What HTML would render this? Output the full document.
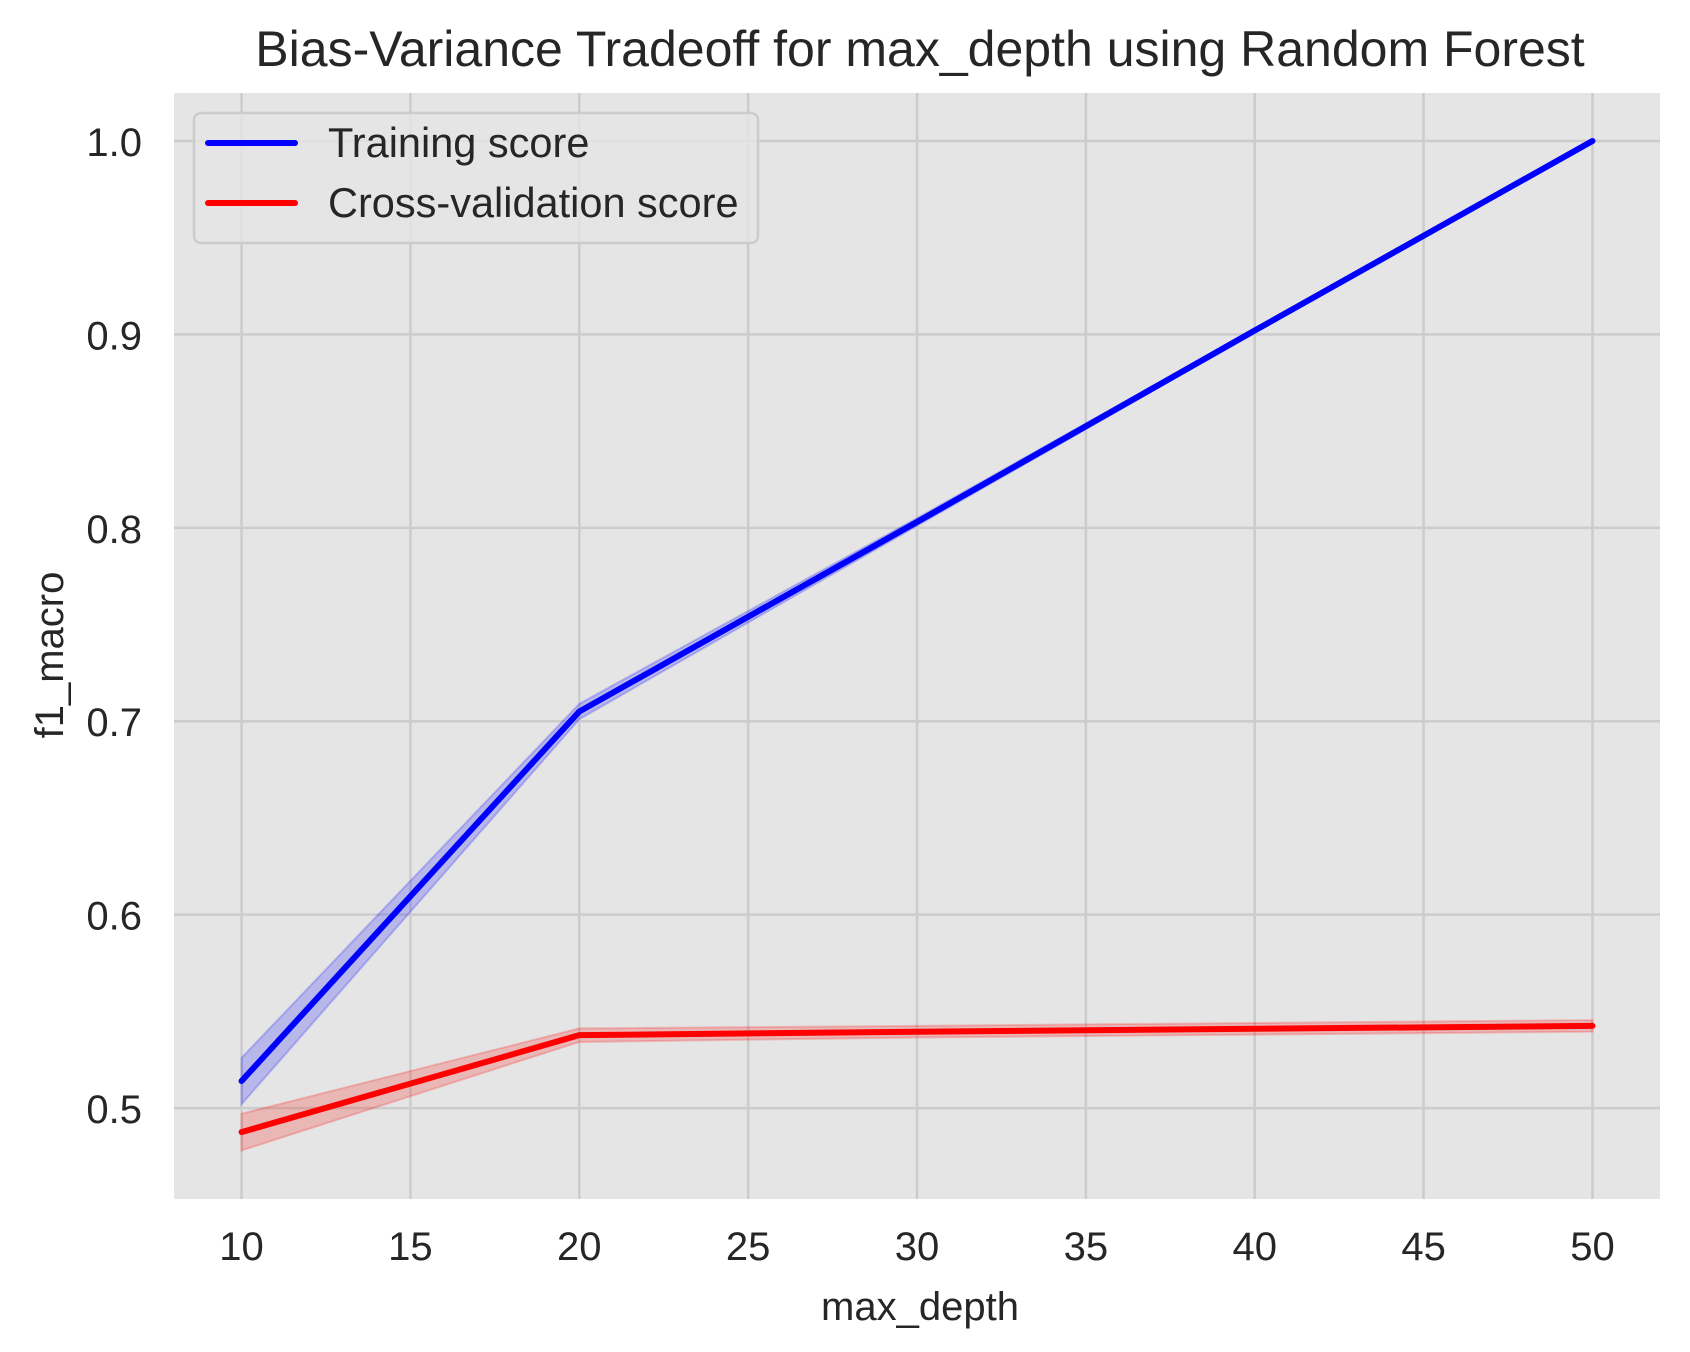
<!DOCTYPE html>
<html><head><meta charset="utf-8"><style>
html,body{margin:0;padding:0;background:#fff;}
svg{display:block;font-family:"Liberation Sans",Arial,sans-serif;}
</style></head><body>
<svg id="chart" width="1690" height="1352" viewBox="0 0 1690 1352">
<rect x="174" y="93" width="1486" height="1106" fill="#e5e5e5"/>
<g id="grid"></g>
<g id="bands"></g>
<g id="lines"></g>
<g id="ticks"></g>
<text x="920" y="66" text-anchor="middle" font-size="50" fill="#262626">Bias-Variance Tradeoff for max_depth using Random Forest</text>
<text x="920" y="1320" text-anchor="middle" font-size="40" fill="#262626">max_depth</text>
<text transform="translate(63,655) rotate(-90)" text-anchor="middle" font-size="40" fill="#262626">f1_macro</text>
<g>
<rect x="194" y="113" width="564" height="130" rx="7" fill="#e5e5e5" fill-opacity="0.8" stroke="#cccccc" stroke-width="2.5"/>
<line x1="208" y1="143" x2="295" y2="143" stroke="#0000ff" stroke-width="6" stroke-linecap="round"/>
<text x="328" y="157" font-size="41.5" fill="#262626">Training score</text>
<line x1="208" y1="203" x2="295" y2="203" stroke="#ff0000" stroke-width="6" stroke-linecap="round"/>
<text x="328" y="217" font-size="41.5" fill="#262626">Cross-validation score</text>
</g>
</svg>
<script>
const depths = [10, 20, 30, 40, 50];
const trainMean = [0.514, 0.705, 0.803, 0.902, 1.0];
const trainStd = [0.012, 0.004, 0.002, 0.001, 0.0005];
const cvMean = [0.4876, 0.5377, 0.5395, 0.5410, 0.5425];
const cvStd = [0.0095, 0.0035, 0.003, 0.003, 0.003];
const xTicks = [10, 15, 20, 25, 30, 35, 40, 45, 50];
const yTicks = [0.5, 0.6, 0.7, 0.8, 0.9, 1.0];

const L = 174, R = 1660, T = 93, B = 1199;
const xMin = 8, xMax = 52, yMin = 0.4530, yMax = 1.0248;
const sx = v => L + (v - xMin) / (xMax - xMin) * (R - L);
const sy = v => B - (v - yMin) / (yMax - yMin) * (B - T);
const NS = "http://www.w3.org/2000/svg";
function mk(tag, attrs, parent) {
  const e = document.createElementNS(NS, tag);
  for (const k in attrs) e.setAttribute(k, attrs[k]);
  parent.appendChild(e);
  return e;
}
const grid = document.getElementById('grid');
const ticks = document.getElementById('ticks');
xTicks.forEach(t => {
  const g = mk('line', {x1: sx(t), x2: sx(t), y1: T, y2: B, stroke: '#cccccc', 'stroke-width': 2.5}, grid);
  
  
  const tx = mk('text', {x: sx(t), y: 1260, 'text-anchor': 'middle', 'font-size': 40, fill: '#262626'}, ticks);
  tx.textContent = t;
  
  
});
yTicks.forEach(t => {
  const g = mk('line', {x1: L, x2: R, y1: sy(t), y2: sy(t), stroke: '#cccccc', 'stroke-width': 2.5}, grid);
  
  
  const tx = mk('text', {x: 142, y: sy(t) + 15, 'text-anchor': 'end', 'font-size': 40, fill: '#262626'}, ticks);
  tx.textContent = t.toFixed(1);
  
  
});
function band(mean, std, color, name) {
  const up = depths.map((d, i) => sx(d) + ',' + sy(mean[i] + std[i]));
  const lo = depths.map((d, i) => sx(d) + ',' + sy(mean[i] - std[i])).reverse();
  const p = mk('polygon', {points: up.concat(lo).join(' '), fill: color, 'fill-opacity': 0.2, stroke: color, 'stroke-opacity': 0.2, 'stroke-width': 2}, document.getElementById('bands'));
  
  
}
function line(mean, color, name) {
  const pts = depths.map((d, i) => sx(d) + ',' + sy(mean[i])).join(' ');
  const p = mk('polyline', {points: pts, fill: 'none', stroke: color, 'stroke-width': 6, 'stroke-linecap': 'round', 'stroke-linejoin': 'round'}, document.getElementById('lines'));
  
  
}
band(trainMean, trainStd, '#0000ff', 'training-std-band');
band(cvMean, cvStd, '#ff0000', 'cv-std-band');
line(trainMean, '#0000ff', 'training-score-line');
line(cvMean, '#ff0000', 'cv-score-line');
</script>
</body></html>
